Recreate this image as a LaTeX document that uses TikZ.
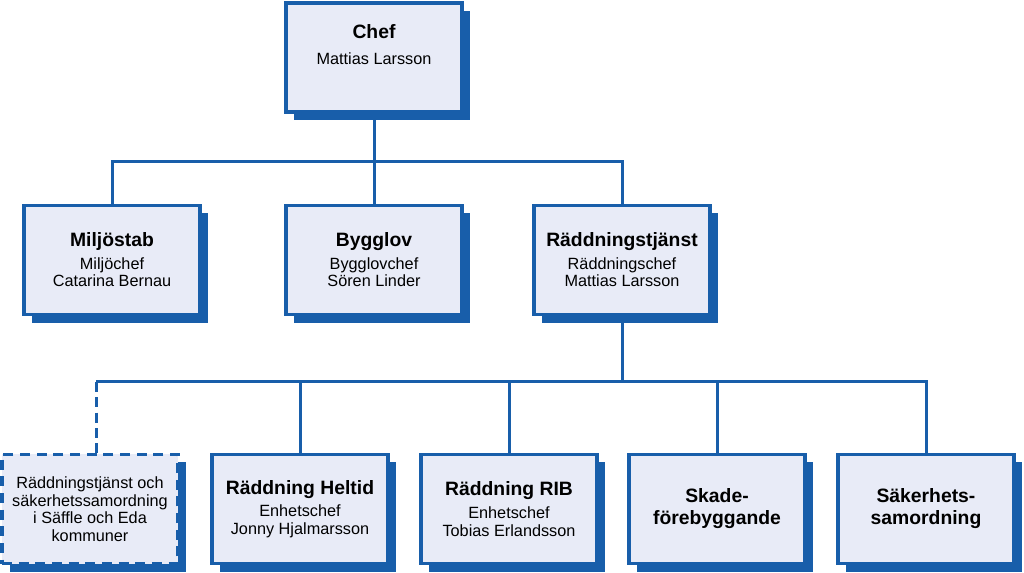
\documentclass[tikz,border=0pt]{standalone}
\usepackage{fontspec}
\setmainfont{Liberation Sans}
\usetikzlibrary{shadows}

\definecolor{orgblue}{RGB}{24,94,170}
\definecolor{orgfill}{RGB}{232,235,247}

\newcommand{\unitname}[1]{{\fontsize{14.5}{16.5}\selectfont\bfseries #1}}

\begin{document}
\begin{tikzpicture}[x=0.75pt, y=-0.75pt,
  orgbox/.style={draw=orgblue, fill=orgfill, line width=2.6pt,
    minimum width=132pt, minimum height=82pt, inner sep=2pt, align=center,
    font=\fontsize{12.2}{13.2}\selectfont,
    drop shadow={shadow xshift=6pt, shadow yshift=-6pt, fill=orgblue, opacity=1}},
  boldbox/.style={orgbox, font=\fontsize{14.5}{16.5}\selectfont\bfseries},
  orgline/.style={draw=orgblue, line width=2.25pt},
  extbox/.style={orgbox, dash pattern=on 7.5pt off 5pt}]

\useasboundingbox (0,0) rectangle (1024,573);

% Top level
\node[orgbox] (chef) at (374,57.5) {\unitname{Chef}\\[6pt]Mattias Larsson\\[6.5pt]\mbox{}};

% Second level
\node[orgbox] (miljo) at (112,260) {\unitname{Miljöstab}\\[3.5pt]Miljöchef\\Catarina Bernau};
\node[orgbox] (bygglov) at (374,260) {\unitname{Bygglov}\\[3.5pt]Bygglovchef\\Sören Linder};
\node[orgbox] (rtj) at (622,260) {\unitname{Räddningstjänst}\\[3.5pt]Räddningschef\\Mattias Larsson};

% Third level
\node[extbox] (samverkan) at (90,509) {Räddningstjänst och\\säkerhetssamordning\\i Säffle och Eda\\kommuner};
\node[orgbox] (heltid) at (300,509) {\unitname{Räddning Heltid}\\[4pt]Enhetschef\\Jonny Hjalmarsson};
\node[orgbox] (rib) at (509,509) {\unitname{Räddning RIB}\\[4pt]Enhetschef\\Tobias Erlandsson};
\node[boldbox] (skade) at (717,509) {Skade-\\förebyggande};
\node[boldbox] (saker) at (926,509) {Säkerhets-\\samordning};

% Bus lines
\coordinate (bus1) at (374,162);
\coordinate (bus2) at (622,382);
\coordinate (extjoin) at ([xshift=4.5pt]samverkan.north);

\draw[orgline] (chef.south) -- (chef.south |- bus1) -| (miljo.north);
\draw[orgline] (chef.south |- bus1) -| (rtj.north);
\draw[orgline] (chef.south |- bus1) -- (bygglov.north);

\draw[orgline] (rtj.south) -- (rtj.south |- bus2) -| (saker.north);
\draw[orgline] (rtj.south |- bus2) -| (skade.north);
\draw[orgline] (rtj.south |- bus2) -| (rib.north);
\draw[orgline] (rtj.south |- bus2) -| (heltid.north);
\draw[orgline] (heltid.north |- bus2) -- (extjoin |- bus2);
\draw[orgline, dash pattern=on 7.5pt off 4pt] (extjoin |- bus2) -- (extjoin);

\end{tikzpicture}
\end{document}
